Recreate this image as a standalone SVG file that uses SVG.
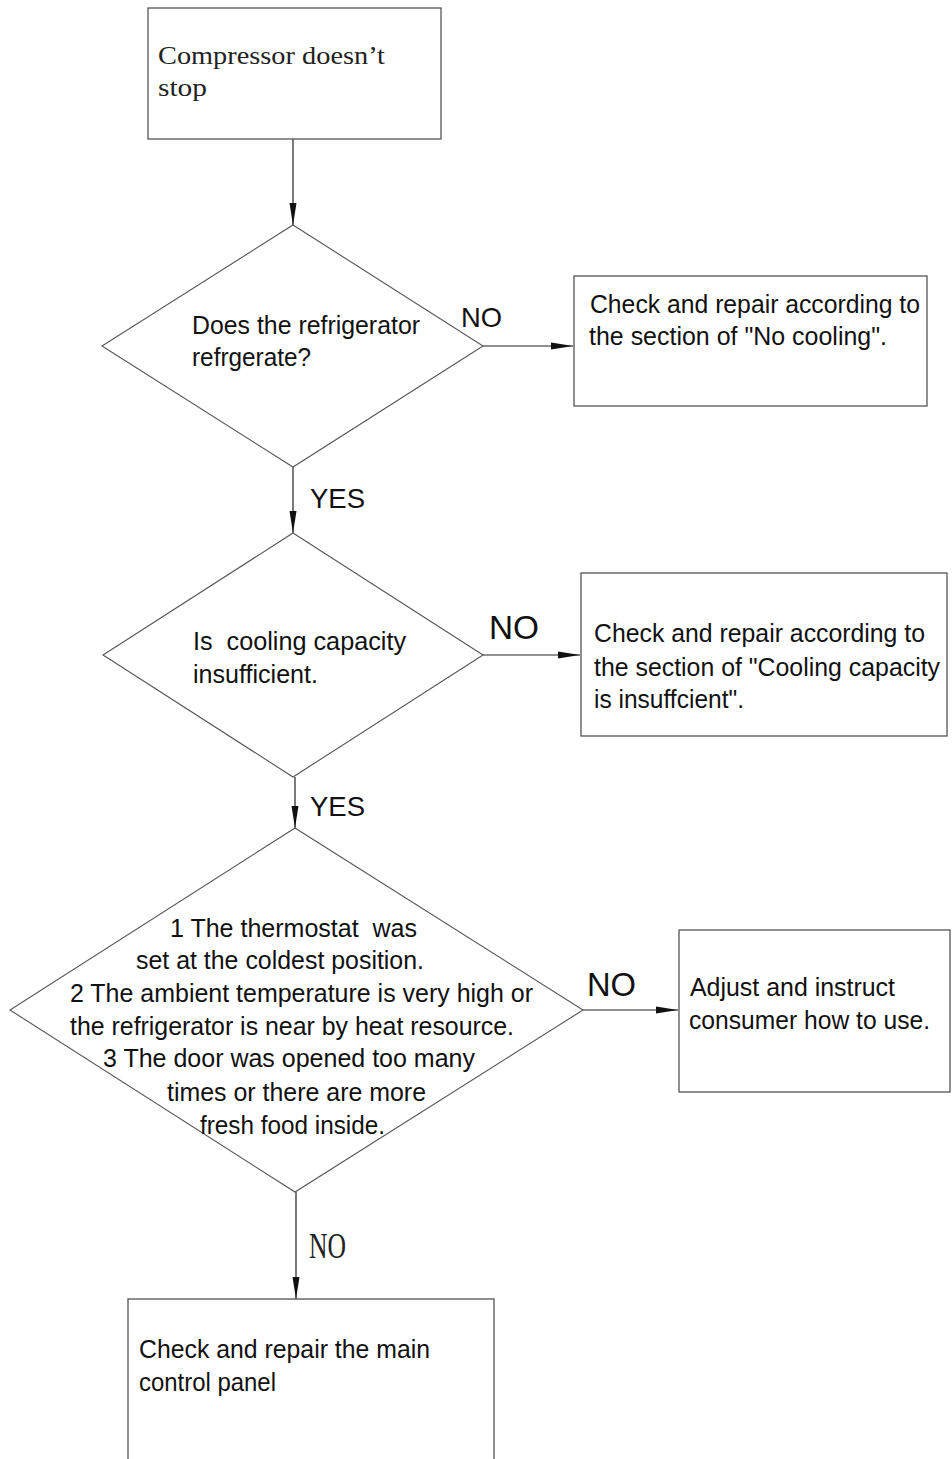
<svg xmlns="http://www.w3.org/2000/svg" width="952" height="1459" viewBox="0 0 952 1459">
<style>
.box{fill:#fff;stroke:#555;stroke-width:1.3}
.dia{fill:#fff;stroke:#555;stroke-width:1.1}
.ln{stroke:#222;stroke-width:1.2;fill:none}
.t{font-family:"Liberation Sans",Arial,sans-serif;font-size:25px;fill:#111}
.s{font-family:"Liberation Serif","Times New Roman",serif;font-size:26px;fill:#222}
.sb{font-family:"Liberation Serif","Times New Roman",serif;font-size:36px;fill:#222}
.lb{font-family:"Liberation Sans",Arial,sans-serif;font-size:28px;fill:#111}
.lb2{font-family:"Liberation Sans",Arial,sans-serif;font-size:33px;fill:#111}
</style>
<defs>
<marker id="ah" markerWidth="24" markerHeight="8" refX="22" refY="4" orient="auto" markerUnits="userSpaceOnUse">
<path d="M0,0.5 L22,4 L0,7.5 Z" fill="#111"/>
</marker>
</defs>
<rect width="952" height="1459" fill="#fff"/>
<g id="connectors">
<line class="ln" x1="293" y1="139" x2="293" y2="225" marker-end="url(#ah)"/>
<line class="ln" x1="483" y1="346" x2="573" y2="346" marker-end="url(#ah)"/>
<line class="ln" x1="293" y1="467" x2="293" y2="533" marker-end="url(#ah)"/>
<line class="ln" x1="483" y1="655" x2="580" y2="655" marker-end="url(#ah)"/>
<line class="ln" x1="295" y1="777" x2="295" y2="828" marker-end="url(#ah)"/>
<line class="ln" x1="583" y1="1010" x2="678" y2="1010" marker-end="url(#ah)"/>
<line class="ln" x1="296" y1="1192" x2="296" y2="1299" marker-end="url(#ah)"/>
<text class="lb" x="461" y="327" textLength="41" lengthAdjust="spacingAndGlyphs">NO</text>
<text class="lb" x="310" y="508" textLength="55" lengthAdjust="spacingAndGlyphs">YES</text>
<text class="lb2" x="489" y="639" textLength="50" lengthAdjust="spacingAndGlyphs">NO</text>
<text class="lb" x="310" y="816" textLength="55" lengthAdjust="spacingAndGlyphs">YES</text>
<text class="lb2" x="587" y="996" textLength="49" lengthAdjust="spacingAndGlyphs">NO</text>
<text class="sb" x="309" y="1258" textLength="37" lengthAdjust="spacingAndGlyphs">NO</text>
</g>
<g id="start">
<rect class="box" x="148" y="8" width="293" height="131"/>
<text class="s" x="158" y="64" textLength="227" lengthAdjust="spacingAndGlyphs">Compressor doesn’t</text>
<text class="s" x="158" y="96" textLength="49" lengthAdjust="spacingAndGlyphs">stop</text>
</g>
<g id="d1">
<polygon class="dia" points="293,225 483,346 293,467 102,346"/>
<text class="t" x="192" y="334" textLength="228" lengthAdjust="spacingAndGlyphs">Does the refrigerator</text>
<text class="t" x="192" y="366" textLength="119" lengthAdjust="spacingAndGlyphs">refrgerate?</text>
</g>
<g id="b2">
<rect class="box" x="574" y="276" width="353" height="130"/>
<text class="t" x="590" y="313" textLength="330" lengthAdjust="spacingAndGlyphs">Check and repair according to</text>
<text class="t" x="589" y="345" textLength="298" lengthAdjust="spacingAndGlyphs">the section of "No cooling".</text>
</g>
<g id="d2">
<polygon class="dia" points="293,533 483,655 293,777 103,655"/>
<text class="t" x="193" y="650" xml:space="preserve" textLength="213" lengthAdjust="spacingAndGlyphs">Is  cooling capacity</text>
<text class="t" x="193" y="683" textLength="125" lengthAdjust="spacingAndGlyphs">insufficient.</text>
</g>
<g id="b3">
<rect class="box" x="581" y="573" width="366" height="163"/>
<text class="t" x="594" y="642" textLength="331" lengthAdjust="spacingAndGlyphs">Check and repair according to</text>
<text class="t" x="594" y="676" textLength="346" lengthAdjust="spacingAndGlyphs">the section of "Cooling capacity</text>
<text class="t" x="594" y="708" textLength="150" lengthAdjust="spacingAndGlyphs">is insuffcient".</text>
</g>
<g id="d3">
<polygon class="dia" points="295,828 583,1010 295,1192 10,1010"/>
<text class="t" x="170" y="937" xml:space="preserve" textLength="247" lengthAdjust="spacingAndGlyphs">1 The thermostat  was</text>
<text class="t" x="136" y="969" textLength="288" lengthAdjust="spacingAndGlyphs">set at the coldest position.</text>
<text class="t" x="70" y="1002" textLength="463" lengthAdjust="spacingAndGlyphs">2 The ambient temperature is very high or</text>
<text class="t" x="70" y="1035" textLength="444" lengthAdjust="spacingAndGlyphs">the refrigerator is near by heat resource.</text>
<text class="t" x="103" y="1067" textLength="372" lengthAdjust="spacingAndGlyphs">3 The door was opened too many</text>
<text class="t" x="167" y="1101" textLength="259" lengthAdjust="spacingAndGlyphs">times or there are more</text>
<text class="t" x="200" y="1134" textLength="185" lengthAdjust="spacingAndGlyphs">fresh food inside.</text>
</g>
<g id="b4">
<rect class="box" x="679" y="930" width="271" height="162"/>
<text class="t" x="690" y="996" textLength="205" lengthAdjust="spacingAndGlyphs">Adjust and instruct</text>
<text class="t" x="689" y="1029" textLength="241" lengthAdjust="spacingAndGlyphs">consumer how to use.</text>
</g>
<g id="b5">
<rect class="box" x="128" y="1299" width="366" height="170"/>
<text class="t" x="139" y="1358" textLength="291" lengthAdjust="spacingAndGlyphs">Check and repair the main</text>
<text class="t" x="139" y="1391" textLength="137" lengthAdjust="spacingAndGlyphs">control panel</text>
</g>
</svg>
